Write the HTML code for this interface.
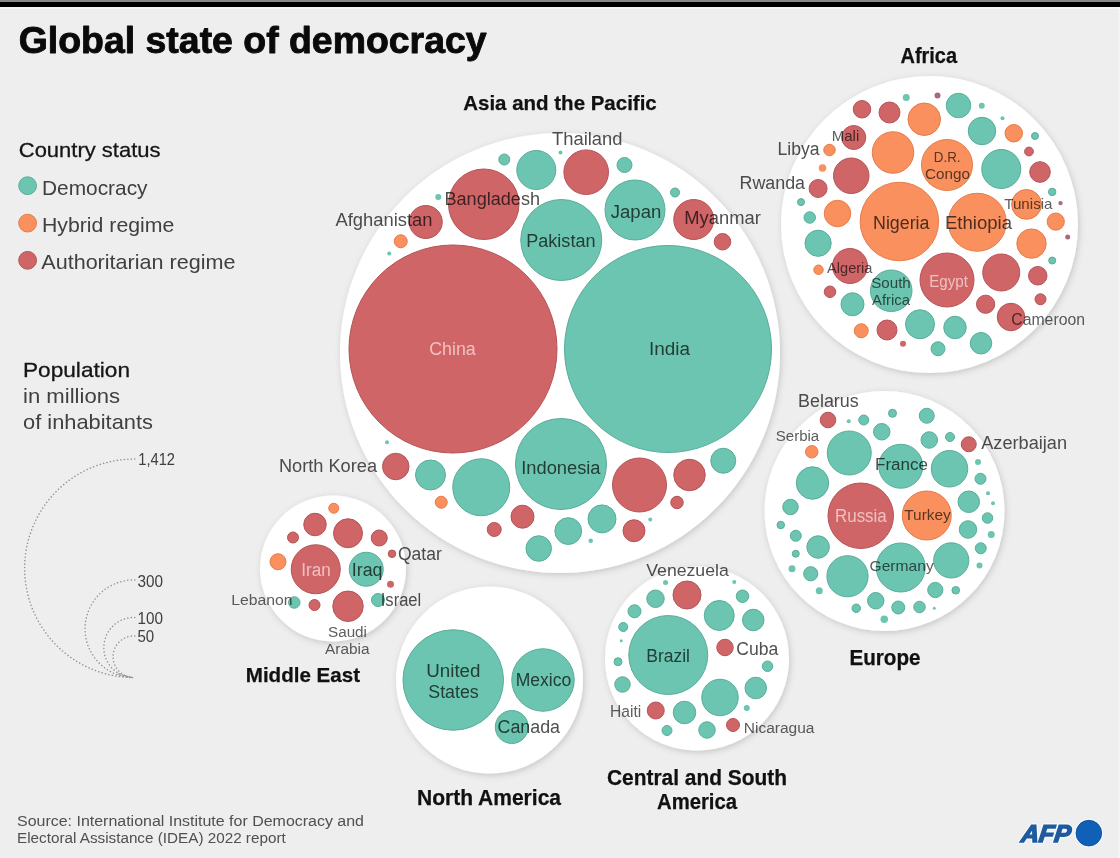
<!DOCTYPE html>
<html lang="en"><head><meta charset="utf-8"><title>Global state of democracy</title>
<style>
html,body{margin:0;padding:0;background:#eeeeee;}
body{width:1120px;height:858px;overflow:hidden;font-family:"Liberation Sans",sans-serif;}
svg{display:block}
text{font-family:"Liberation Sans",sans-serif;}
</style></head><body>
<svg width="1120" height="858" viewBox="0 0 1120 858">
<defs>
<filter id="sh" x="-10%" y="-10%" width="120%" height="120%">
<feDropShadow dx="1.2" dy="1.8" stdDeviation="3" flood-color="#000" flood-opacity="0.17"/>
</filter>
</defs>
<rect x="0" y="0" width="1120" height="858" fill="#eeeeee"/>
<rect x="0" y="0" width="1120" height="2" fill="#8a8a8a"/>
<rect x="0" y="2" width="1120" height="5" fill="#000"/>
<rect x="0" y="7" width="1120" height="2" fill="#f6f6f6"/>
<rect x="1118.4" y="7" width="1.6" height="851" fill="#f5f5f5"/>

<g filter="url(#sh)" fill="#fff">
<circle cx="560" cy="353" r="220"/>
<circle cx="929.5" cy="224.5" r="148.5"/>
<circle cx="884.5" cy="511" r="120"/>
<circle cx="333" cy="568.5" r="73"/>
<circle cx="489.5" cy="680" r="93.5"/>
<circle cx="697" cy="658.5" r="92"/>
</g>
<g stroke-width="1">
<circle cx="504.3" cy="159.5" r="5.5" fill="#6cc5b0" stroke="#58ad99"/>
<circle cx="536.3" cy="170" r="19.5" fill="#6cc5b0" stroke="#58ad99"/>
<circle cx="560.5" cy="152.5" r="2" fill="#6cc5b0" stroke="none"/>
<circle cx="586.2" cy="172.2" r="22.3" fill="#cf6567" stroke="#b55357"/>
<circle cx="483.75" cy="204.25" r="35.25" fill="#cf6567" stroke="#b55357"/>
<circle cx="438.25" cy="197" r="3" fill="#6cc5b0" stroke="none"/>
<circle cx="425.75" cy="222" r="16.5" fill="#cf6567" stroke="#b55357"/>
<circle cx="400.75" cy="241.25" r="6.5" fill="#f9905e" stroke="#e47c4a"/>
<circle cx="389.25" cy="253.5" r="2" fill="#6cc5b0" stroke="none"/>
<circle cx="561.25" cy="240" r="40.5" fill="#6cc5b0" stroke="#58ad99"/>
<circle cx="453" cy="349" r="104.0" fill="#cf6567" stroke="#b55357"/>
<circle cx="668" cy="349" r="103.5" fill="#6cc5b0" stroke="#58ad99"/>
<circle cx="624.5" cy="165" r="7.5" fill="#6cc5b0" stroke="#58ad99"/>
<circle cx="635" cy="210" r="30.0" fill="#6cc5b0" stroke="#58ad99"/>
<circle cx="675" cy="192.5" r="4.5" fill="#6cc5b0" stroke="#58ad99"/>
<circle cx="693.75" cy="219.5" r="20.0" fill="#cf6567" stroke="#b55357"/>
<circle cx="722.5" cy="241.75" r="8.25" fill="#cf6567" stroke="#b55357"/>
<circle cx="387" cy="442.25" r="2" fill="#6cc5b0" stroke="none"/>
<circle cx="395.75" cy="466.5" r="13.25" fill="#cf6567" stroke="#b55357"/>
<circle cx="430.5" cy="475" r="15.0" fill="#6cc5b0" stroke="#58ad99"/>
<circle cx="441.25" cy="502.25" r="6.0" fill="#f9905e" stroke="#e47c4a"/>
<circle cx="481.25" cy="487.25" r="28.5" fill="#6cc5b0" stroke="#58ad99"/>
<circle cx="561" cy="464" r="45.5" fill="#6cc5b0" stroke="#58ad99"/>
<circle cx="522.5" cy="516.7" r="11.5" fill="#cf6567" stroke="#b55357"/>
<circle cx="494.25" cy="529.5" r="7.0" fill="#cf6567" stroke="#b55357"/>
<circle cx="568.25" cy="531.1" r="13.4" fill="#6cc5b0" stroke="#58ad99"/>
<circle cx="538.75" cy="548.5" r="12.75" fill="#6cc5b0" stroke="#58ad99"/>
<circle cx="602" cy="518.9" r="14.0" fill="#6cc5b0" stroke="#58ad99"/>
<circle cx="590.75" cy="540.75" r="2.25" fill="#6cc5b0" stroke="none"/>
<circle cx="639.5" cy="485" r="27.0" fill="#cf6567" stroke="#b55357"/>
<circle cx="689.5" cy="475" r="15.75" fill="#cf6567" stroke="#b55357"/>
<circle cx="723.25" cy="460.75" r="12.5" fill="#6cc5b0" stroke="#58ad99"/>
<circle cx="677" cy="502.5" r="6.25" fill="#cf6567" stroke="#b55357"/>
<circle cx="650.25" cy="519.5" r="2" fill="#6cc5b0" stroke="none"/>
<circle cx="634" cy="530.75" r="11.0" fill="#cf6567" stroke="#b55357"/>
<circle cx="862" cy="109.25" r="8.75" fill="#cf6567" stroke="#b55357"/>
<circle cx="889.5" cy="112.5" r="10.5" fill="#cf6567" stroke="#b55357"/>
<circle cx="924.25" cy="119.25" r="16.25" fill="#f9905e" stroke="#e47c4a"/>
<circle cx="906.25" cy="97.5" r="3.5" fill="#6cc5b0" stroke="none"/>
<circle cx="937.5" cy="95.5" r="3" fill="#a8697c" stroke="none"/>
<circle cx="958.5" cy="105.5" r="12.25" fill="#6cc5b0" stroke="#58ad99"/>
<circle cx="981.75" cy="105.75" r="3" fill="#6cc5b0" stroke="none"/>
<circle cx="1002.5" cy="118.25" r="2" fill="#6cc5b0" stroke="none"/>
<circle cx="982" cy="131" r="13.75" fill="#6cc5b0" stroke="#58ad99"/>
<circle cx="1013.75" cy="133.25" r="8.75" fill="#f9905e" stroke="#e47c4a"/>
<circle cx="1035" cy="136" r="3.5" fill="#6cc5b0" stroke="#58ad99"/>
<circle cx="1029" cy="151.5" r="4.4" fill="#cf6567" stroke="#b55357"/>
<circle cx="1001.25" cy="169" r="19.5" fill="#6cc5b0" stroke="#58ad99"/>
<circle cx="1040" cy="172" r="10.3" fill="#cf6567" stroke="#b55357"/>
<circle cx="853.75" cy="137.5" r="12.0" fill="#cf6567" stroke="#b55357"/>
<circle cx="829.5" cy="150" r="5.75" fill="#f9905e" stroke="#e47c4a"/>
<circle cx="822.5" cy="168" r="3.75" fill="#f9905e" stroke="none"/>
<circle cx="893" cy="152.5" r="20.75" fill="#f9905e" stroke="#e47c4a"/>
<circle cx="947" cy="165" r="25.5" fill="#f9905e" stroke="#e47c4a"/>
<circle cx="851.25" cy="175.75" r="17.75" fill="#cf6567" stroke="#b55357"/>
<circle cx="818.1" cy="188.5" r="9.0" fill="#cf6567" stroke="#b55357"/>
<circle cx="801" cy="202.1" r="3.5" fill="#6cc5b0" stroke="#58ad99"/>
<circle cx="809.75" cy="217.5" r="5.75" fill="#6cc5b0" stroke="#58ad99"/>
<circle cx="837.5" cy="213.5" r="13.25" fill="#f9905e" stroke="#e47c4a"/>
<circle cx="899.4" cy="221.5" r="39.25" fill="#f9905e" stroke="#e47c4a"/>
<circle cx="977.25" cy="222.25" r="29.0" fill="#f9905e" stroke="#e47c4a"/>
<circle cx="1026.5" cy="204.4" r="14.9" fill="#f9905e" stroke="#e47c4a"/>
<circle cx="1052.2" cy="191.9" r="3.7" fill="#6cc5b0" stroke="#58ad99"/>
<circle cx="1060.5" cy="203.1" r="2.2" fill="#a8697c" stroke="none"/>
<circle cx="1055.75" cy="221.6" r="8.6" fill="#f9905e" stroke="#e47c4a"/>
<circle cx="1067.7" cy="237" r="2.5" fill="#a8697c" stroke="none"/>
<circle cx="1031.5" cy="243.6" r="14.7" fill="#f9905e" stroke="#e47c4a"/>
<circle cx="1052.2" cy="260.5" r="3.5" fill="#6cc5b0" stroke="#58ad99"/>
<circle cx="818.1" cy="243.25" r="13.1" fill="#6cc5b0" stroke="#58ad99"/>
<circle cx="850" cy="266" r="17.5" fill="#cf6567" stroke="#b55357"/>
<circle cx="818.5" cy="269.75" r="4.75" fill="#f9905e" stroke="#e47c4a"/>
<circle cx="830" cy="291.75" r="5.75" fill="#cf6567" stroke="#b55357"/>
<circle cx="891.25" cy="290.75" r="20.75" fill="#6cc5b0" stroke="#58ad99"/>
<circle cx="947" cy="280" r="27.0" fill="#cf6567" stroke="#b55357"/>
<circle cx="1001.25" cy="272.5" r="18.5" fill="#cf6567" stroke="#b55357"/>
<circle cx="1037.75" cy="275.75" r="9.25" fill="#cf6567" stroke="#b55357"/>
<circle cx="1040.5" cy="299.25" r="5.5" fill="#cf6567" stroke="#b55357"/>
<circle cx="985.6" cy="304.25" r="9.1" fill="#cf6567" stroke="#b55357"/>
<circle cx="1011" cy="317" r="13.75" fill="#cf6567" stroke="#b55357"/>
<circle cx="852.5" cy="304.25" r="11.5" fill="#6cc5b0" stroke="#58ad99"/>
<circle cx="861.25" cy="330.75" r="7.0" fill="#f9905e" stroke="#e47c4a"/>
<circle cx="887" cy="330" r="10.0" fill="#cf6567" stroke="#b55357"/>
<circle cx="903" cy="343.75" r="3" fill="#cf6567" stroke="none"/>
<circle cx="920" cy="324.25" r="14.5" fill="#6cc5b0" stroke="#58ad99"/>
<circle cx="955" cy="327.5" r="11.25" fill="#6cc5b0" stroke="#58ad99"/>
<circle cx="938" cy="348.75" r="7.0" fill="#6cc5b0" stroke="#58ad99"/>
<circle cx="981" cy="343.25" r="10.75" fill="#6cc5b0" stroke="#58ad99"/>
<circle cx="828" cy="420" r="7.75" fill="#cf6567" stroke="#b55357"/>
<circle cx="848.75" cy="421.25" r="2" fill="#6cc5b0" stroke="none"/>
<circle cx="863.75" cy="420" r="5.0" fill="#6cc5b0" stroke="#58ad99"/>
<circle cx="881.75" cy="431.75" r="8.25" fill="#6cc5b0" stroke="#58ad99"/>
<circle cx="892.5" cy="413.25" r="4.0" fill="#6cc5b0" stroke="#58ad99"/>
<circle cx="926.75" cy="415.75" r="7.5" fill="#6cc5b0" stroke="#58ad99"/>
<circle cx="929.25" cy="440" r="8.25" fill="#6cc5b0" stroke="#58ad99"/>
<circle cx="950" cy="437" r="4.5" fill="#6cc5b0" stroke="#58ad99"/>
<circle cx="968.75" cy="444.25" r="7.5" fill="#cf6567" stroke="#b55357"/>
<circle cx="811.75" cy="451.75" r="6.25" fill="#f9905e" stroke="#e47c4a"/>
<circle cx="849.25" cy="453" r="22.0" fill="#6cc5b0" stroke="#58ad99"/>
<circle cx="900.75" cy="466.25" r="22.0" fill="#6cc5b0" stroke="#58ad99"/>
<circle cx="949.5" cy="468.75" r="18.25" fill="#6cc5b0" stroke="#58ad99"/>
<circle cx="978" cy="462" r="3" fill="#6cc5b0" stroke="none"/>
<circle cx="980.5" cy="478.75" r="5.5" fill="#6cc5b0" stroke="#58ad99"/>
<circle cx="988" cy="493.25" r="2" fill="#6cc5b0" stroke="none"/>
<circle cx="993" cy="503.25" r="2" fill="#6cc5b0" stroke="none"/>
<circle cx="968.75" cy="501.75" r="10.75" fill="#6cc5b0" stroke="#58ad99"/>
<circle cx="987.5" cy="518" r="5.25" fill="#6cc5b0" stroke="#58ad99"/>
<circle cx="968" cy="529.5" r="8.75" fill="#6cc5b0" stroke="#58ad99"/>
<circle cx="991.25" cy="534.5" r="3.5" fill="#6cc5b0" stroke="none"/>
<circle cx="980.75" cy="548.25" r="5.5" fill="#6cc5b0" stroke="#58ad99"/>
<circle cx="979.5" cy="565.5" r="3" fill="#6cc5b0" stroke="none"/>
<circle cx="812.5" cy="483" r="16.25" fill="#6cc5b0" stroke="#58ad99"/>
<circle cx="860.75" cy="515.75" r="32.75" fill="#cf6567" stroke="#b55357"/>
<circle cx="926.75" cy="515.5" r="24.5" fill="#f9905e" stroke="#e47c4a"/>
<circle cx="790.5" cy="507" r="7.75" fill="#6cc5b0" stroke="#58ad99"/>
<circle cx="780.75" cy="525" r="3.75" fill="#6cc5b0" stroke="#58ad99"/>
<circle cx="795.75" cy="535.75" r="5.5" fill="#6cc5b0" stroke="#58ad99"/>
<circle cx="795.75" cy="553.75" r="3.5" fill="#6cc5b0" stroke="#58ad99"/>
<circle cx="818.1" cy="547" r="11.25" fill="#6cc5b0" stroke="#58ad99"/>
<circle cx="792" cy="568.75" r="3.5" fill="#6cc5b0" stroke="none"/>
<circle cx="810.75" cy="573.75" r="7.1" fill="#6cc5b0" stroke="#58ad99"/>
<circle cx="900.75" cy="567.5" r="24.5" fill="#6cc5b0" stroke="#58ad99"/>
<circle cx="951.25" cy="560.4" r="17.6" fill="#6cc5b0" stroke="#58ad99"/>
<circle cx="847.5" cy="576.25" r="20.6" fill="#6cc5b0" stroke="#58ad99"/>
<circle cx="935.3" cy="590" r="7.6" fill="#6cc5b0" stroke="#58ad99"/>
<circle cx="955.75" cy="590.3" r="3.8" fill="#6cc5b0" stroke="#58ad99"/>
<circle cx="934.25" cy="608.25" r="1.5" fill="#6cc5b0" stroke="none"/>
<circle cx="919.5" cy="607" r="5.75" fill="#6cc5b0" stroke="#58ad99"/>
<circle cx="898.25" cy="607.5" r="6.5" fill="#6cc5b0" stroke="#58ad99"/>
<circle cx="875.75" cy="600.75" r="8.25" fill="#6cc5b0" stroke="#58ad99"/>
<circle cx="856.25" cy="608.25" r="4.25" fill="#6cc5b0" stroke="#58ad99"/>
<circle cx="884.25" cy="619.25" r="3.75" fill="#6cc5b0" stroke="none"/>
<circle cx="819.25" cy="590.75" r="3.5" fill="#6cc5b0" stroke="none"/>
<circle cx="333.75" cy="508.25" r="5.0" fill="#f9905e" stroke="#e47c4a"/>
<circle cx="315" cy="524.5" r="11.25" fill="#cf6567" stroke="#b55357"/>
<circle cx="293" cy="537.5" r="5.5" fill="#cf6567" stroke="#b55357"/>
<circle cx="348" cy="533.25" r="14.5" fill="#cf6567" stroke="#b55357"/>
<circle cx="379.25" cy="538" r="8.0" fill="#cf6567" stroke="#b55357"/>
<circle cx="392" cy="553.75" r="3.75" fill="#cf6567" stroke="#b55357"/>
<circle cx="390.5" cy="584.25" r="3.5" fill="#cf6567" stroke="none"/>
<circle cx="278" cy="561.75" r="8.0" fill="#f9905e" stroke="#e47c4a"/>
<circle cx="315.75" cy="569.25" r="24.5" fill="#cf6567" stroke="#b55357"/>
<circle cx="366.25" cy="569.25" r="17.0" fill="#6cc5b0" stroke="#58ad99"/>
<circle cx="294.25" cy="602.5" r="5.75" fill="#6cc5b0" stroke="#58ad99"/>
<circle cx="314.5" cy="605" r="5.5" fill="#cf6567" stroke="#b55357"/>
<circle cx="348" cy="606.25" r="15.25" fill="#cf6567" stroke="#b55357"/>
<circle cx="378" cy="600" r="6.5" fill="#6cc5b0" stroke="#58ad99"/>
<circle cx="453.25" cy="680" r="50.25" fill="#6cc5b0" stroke="#58ad99"/>
<circle cx="543" cy="680" r="31.25" fill="#6cc5b0" stroke="#58ad99"/>
<circle cx="511.75" cy="727" r="16.5" fill="#6cc5b0" stroke="#58ad99"/>
<circle cx="687" cy="595" r="14.0" fill="#cf6567" stroke="#b55357"/>
<circle cx="665.5" cy="582.5" r="2.5" fill="#6cc5b0" stroke="none"/>
<circle cx="734.25" cy="582" r="2" fill="#6cc5b0" stroke="none"/>
<circle cx="655.5" cy="598.75" r="8.75" fill="#6cc5b0" stroke="#58ad99"/>
<circle cx="634.5" cy="611.25" r="6.5" fill="#6cc5b0" stroke="#58ad99"/>
<circle cx="623.25" cy="627" r="4.5" fill="#6cc5b0" stroke="#58ad99"/>
<circle cx="621.25" cy="640.75" r="1.5" fill="#6cc5b0" stroke="none"/>
<circle cx="618" cy="661.75" r="4.0" fill="#6cc5b0" stroke="#58ad99"/>
<circle cx="622.5" cy="684.5" r="7.75" fill="#6cc5b0" stroke="#58ad99"/>
<circle cx="668.25" cy="655" r="39.5" fill="#6cc5b0" stroke="#58ad99"/>
<circle cx="742.5" cy="596.25" r="6.25" fill="#6cc5b0" stroke="#58ad99"/>
<circle cx="719.25" cy="615.5" r="15.0" fill="#6cc5b0" stroke="#58ad99"/>
<circle cx="753.25" cy="620" r="10.75" fill="#6cc5b0" stroke="#58ad99"/>
<circle cx="725" cy="647.5" r="8.25" fill="#cf6567" stroke="#b55357"/>
<circle cx="767.5" cy="666.25" r="5.25" fill="#6cc5b0" stroke="#58ad99"/>
<circle cx="755.75" cy="688" r="10.75" fill="#6cc5b0" stroke="#58ad99"/>
<circle cx="720" cy="697.5" r="18.25" fill="#6cc5b0" stroke="#58ad99"/>
<circle cx="746.75" cy="708" r="3" fill="#6cc5b0" stroke="none"/>
<circle cx="733" cy="725" r="6.5" fill="#cf6567" stroke="#b55357"/>
<circle cx="707" cy="730" r="8.25" fill="#6cc5b0" stroke="#58ad99"/>
<circle cx="684.5" cy="712.5" r="11.25" fill="#6cc5b0" stroke="#58ad99"/>
<circle cx="655.75" cy="710.5" r="8.5" fill="#cf6567" stroke="#b55357"/>
<circle cx="667" cy="730.5" r="5.0" fill="#6cc5b0" stroke="#58ad99"/>
<circle cx="27.6" cy="185.7" r="8.9" fill="#6cc5b0" stroke="#58ad99"/>
<circle cx="27.6" cy="223.1" r="8.9" fill="#f9905e" stroke="#e47c4a"/>
<circle cx="27.6" cy="260.3" r="8.9" fill="#cf6567" stroke="#b55357"/>
</g>
<g fill="none" stroke="#929292" stroke-width="1.5" stroke-linecap="round" stroke-dasharray="0.1 3.4">
<path d="M134.8 459.1 A109.2 109.2 0 0 0 132.8 677.5"/>
<path d="M134.8 580.0 A48.75 48.75 0 0 0 132.8 677.5"/>
<path d="M134.8 617.5 A30 30 0 0 0 132.8 677.5"/>
<path d="M134.8 636.0 A20.75 20.75 0 0 0 132.8 677.5"/>
<path d="M118.80000000000001 674.0 L133.8 678.0"/>
</g>
<text x="552" y="144.9" font-size="17.78" textLength="70.5" lengthAdjust="spacingAndGlyphs" fill="#505050" style="mix-blend-mode:multiply">Thailand</text>
<text x="444.5" y="205.4" font-size="18.49" textLength="95.5" lengthAdjust="spacingAndGlyphs" fill="#505050" style="mix-blend-mode:multiply">Bangladesh</text>
<text x="335.5" y="226.15" font-size="18.49" textLength="97.0" lengthAdjust="spacingAndGlyphs" fill="#505050" style="mix-blend-mode:multiply">Afghanistan</text>
<text x="526.25" y="247.4" font-size="18.49" textLength="69.25" lengthAdjust="spacingAndGlyphs" fill="#505050" style="mix-blend-mode:multiply">Pakistan</text>
<text x="610.75" y="217.9" font-size="18.49" textLength="50.5" lengthAdjust="spacingAndGlyphs" fill="#505050" style="mix-blend-mode:multiply">Japan</text>
<text x="684.25" y="224.15" font-size="17.78" textLength="76.5" lengthAdjust="spacingAndGlyphs" fill="#505050" style="mix-blend-mode:multiply">Myanmar</text>
<text x="429.25" y="355.4" font-size="17.78" textLength="46.5" lengthAdjust="spacingAndGlyphs" fill="rgba(255,236,236,0.68)">China</text>
<text x="649" y="355.4" font-size="17.78" textLength="41" lengthAdjust="spacingAndGlyphs" fill="#505050" style="mix-blend-mode:multiply">India</text>
<text x="279" y="472.4" font-size="17.78" textLength="98" lengthAdjust="spacingAndGlyphs" fill="#505050" style="mix-blend-mode:multiply">North Korea</text>
<text x="521.25" y="473.9" font-size="17.78" textLength="79.25" lengthAdjust="spacingAndGlyphs" fill="#505050" style="mix-blend-mode:multiply">Indonesia</text>
<text x="831.75" y="140.9" font-size="14.94" textLength="27.5" lengthAdjust="spacingAndGlyphs" fill="#5e5e5e" style="mix-blend-mode:multiply" style="mix-blend-mode:multiply">Mali</text>
<text x="777.5" y="154.9" font-size="17.78" textLength="42.0" lengthAdjust="spacingAndGlyphs" fill="#505050" style="mix-blend-mode:multiply">Libya</text>
<text x="739.5" y="188.65" font-size="17.78" textLength="65.5" lengthAdjust="spacingAndGlyphs" fill="#505050" style="mix-blend-mode:multiply">Rwanda</text>
<text x="933.75" y="161.65" font-size="15.29" textLength="26.75" lengthAdjust="spacingAndGlyphs" fill="#5e5e5e" style="mix-blend-mode:multiply" style="mix-blend-mode:multiply">D.R.</text>
<text x="925" y="179.15" font-size="15.29" textLength="45" lengthAdjust="spacingAndGlyphs" fill="#5e5e5e" style="mix-blend-mode:multiply" style="mix-blend-mode:multiply">Congo</text>
<text x="873" y="229.15" font-size="17.78" textLength="56.5" lengthAdjust="spacingAndGlyphs" fill="#505050" style="mix-blend-mode:multiply">Nigeria</text>
<text x="945" y="229.15" font-size="17.78" textLength="67" lengthAdjust="spacingAndGlyphs" fill="#505050" style="mix-blend-mode:multiply">Ethiopia</text>
<text x="1004.25" y="208.65" font-size="14.94" textLength="48.25" lengthAdjust="spacingAndGlyphs" fill="#5e5e5e" style="mix-blend-mode:multiply" style="mix-blend-mode:multiply">Tunisia</text>
<text x="827" y="273.4" font-size="14.94" textLength="45.5" lengthAdjust="spacingAndGlyphs" fill="#5e5e5e" style="mix-blend-mode:multiply" style="mix-blend-mode:multiply">Algeria</text>
<text x="871.25" y="288.4" font-size="14.94" textLength="39.5" lengthAdjust="spacingAndGlyphs" fill="#5e5e5e" style="mix-blend-mode:multiply" style="mix-blend-mode:multiply">South</text>
<text x="872" y="305.4" font-size="14.94" textLength="38" lengthAdjust="spacingAndGlyphs" fill="#5e5e5e" style="mix-blend-mode:multiply" style="mix-blend-mode:multiply">Africa</text>
<text x="929.25" y="287.4" font-size="17.07" textLength="38.75" lengthAdjust="spacingAndGlyphs" fill="rgba(255,236,236,0.68)">Egypt</text>
<text x="1011.25" y="324.9" font-size="15.65" textLength="73.75" lengthAdjust="spacingAndGlyphs" fill="#5e5e5e" style="mix-blend-mode:multiply" style="mix-blend-mode:multiply">Cameroon</text>
<text x="798" y="407.4" font-size="17.78" textLength="60.75" lengthAdjust="spacingAndGlyphs" fill="#505050" style="mix-blend-mode:multiply">Belarus</text>
<text x="775.75" y="441.15" font-size="15.29" textLength="43.5" lengthAdjust="spacingAndGlyphs" fill="#5e5e5e" style="mix-blend-mode:multiply" style="mix-blend-mode:multiply">Serbia</text>
<text x="981.25" y="449.15" font-size="17.78" textLength="85.75" lengthAdjust="spacingAndGlyphs" fill="#505050" style="mix-blend-mode:multiply">Azerbaijan</text>
<text x="875" y="470.4" font-size="17.07" textLength="53" lengthAdjust="spacingAndGlyphs" fill="#505050" style="mix-blend-mode:multiply">France</text>
<text x="835" y="522.4" font-size="17.78" textLength="51.75" lengthAdjust="spacingAndGlyphs" fill="rgba(255,236,236,0.68)">Russia</text>
<text x="904.25" y="520.4" font-size="15.29" textLength="46.5" lengthAdjust="spacingAndGlyphs" fill="#5e5e5e" style="mix-blend-mode:multiply" style="mix-blend-mode:multiply">Turkey</text>
<text x="869.5" y="571.15" font-size="14.94" textLength="64.25" lengthAdjust="spacingAndGlyphs" fill="#5e5e5e" style="mix-blend-mode:multiply" style="mix-blend-mode:multiply">Germany</text>
<text x="398" y="560.4" font-size="17.78" textLength="43.75" lengthAdjust="spacingAndGlyphs" fill="#505050" style="mix-blend-mode:multiply">Qatar</text>
<text x="301.25" y="576.15" font-size="17.78" textLength="29.5" lengthAdjust="spacingAndGlyphs" fill="rgba(255,236,236,0.68)">Iran</text>
<text x="351.75" y="576.15" font-size="17.78" textLength="30.75" lengthAdjust="spacingAndGlyphs" fill="#505050" style="mix-blend-mode:multiply">Iraq</text>
<text x="231.25" y="605.4" font-size="14.58" textLength="61.25" lengthAdjust="spacingAndGlyphs" fill="#5e5e5e" style="mix-blend-mode:multiply" style="mix-blend-mode:multiply">Lebanon</text>
<text x="380.75" y="606.15" font-size="17.78" textLength="40.5" lengthAdjust="spacingAndGlyphs" fill="#505050" style="mix-blend-mode:multiply">Israel</text>
<text x="328" y="636.65" font-size="15.29" textLength="39" lengthAdjust="spacingAndGlyphs" fill="#5e5e5e" style="mix-blend-mode:multiply" style="mix-blend-mode:multiply">Saudi</text>
<text x="325" y="654.15" font-size="15.29" textLength="44.5" lengthAdjust="spacingAndGlyphs" fill="#5e5e5e" style="mix-blend-mode:multiply" style="mix-blend-mode:multiply">Arabia</text>
<text x="426.25" y="677.4" font-size="18.49" textLength="54.25" lengthAdjust="spacingAndGlyphs" fill="#505050" style="mix-blend-mode:multiply">United</text>
<text x="428.25" y="698.4" font-size="18.49" textLength="50.5" lengthAdjust="spacingAndGlyphs" fill="#505050" style="mix-blend-mode:multiply">States</text>
<text x="515.75" y="685.9" font-size="17.78" textLength="55.5" lengthAdjust="spacingAndGlyphs" fill="#505050" style="mix-blend-mode:multiply">Mexico</text>
<text x="497.5" y="732.9" font-size="17.78" textLength="62.5" lengthAdjust="spacingAndGlyphs" fill="#505050" style="mix-blend-mode:multiply">Canada</text>
<text x="646.25" y="575.9" font-size="17.07" textLength="82.5" lengthAdjust="spacingAndGlyphs" fill="#505050" style="mix-blend-mode:multiply">Venezuela</text>
<text x="646.25" y="661.65" font-size="18.49" textLength="43.75" lengthAdjust="spacingAndGlyphs" fill="#505050" style="mix-blend-mode:multiply">Brazil</text>
<text x="736.25" y="654.9" font-size="18.49" textLength="42.0" lengthAdjust="spacingAndGlyphs" fill="#505050" style="mix-blend-mode:multiply">Cuba</text>
<text x="610" y="717.4" font-size="15.65" textLength="31.25" lengthAdjust="spacingAndGlyphs" fill="#5e5e5e" style="mix-blend-mode:multiply" style="mix-blend-mode:multiply">Haiti</text>
<text x="743.75" y="733.4" font-size="15.29" textLength="70.75" lengthAdjust="spacingAndGlyphs" fill="#5e5e5e" style="mix-blend-mode:multiply" style="mix-blend-mode:multiply">Nicaragua</text>
<text x="463.25" y="109.75" font-size="20.51" textLength="193.5" lengthAdjust="spacingAndGlyphs" fill="#111" font-weight="700" stroke="#111" stroke-width="0.25">Asia and the Pacific</text>
<text x="900.5" y="63.0" font-size="21.25" textLength="56.5" lengthAdjust="spacingAndGlyphs" fill="#111" font-weight="700" stroke="#111" stroke-width="0.25">Africa</text>
<text x="849.5" y="664.75" font-size="21.25" textLength="71.0" lengthAdjust="spacingAndGlyphs" fill="#111" font-weight="700" stroke="#111" stroke-width="0.25">Europe</text>
<text x="245.75" y="682.0" font-size="20.88" textLength="114.25" lengthAdjust="spacingAndGlyphs" fill="#111" font-weight="700" stroke="#111" stroke-width="0.25">Middle East</text>
<text x="417" y="805.0" font-size="21.25" textLength="144" lengthAdjust="spacingAndGlyphs" fill="#111" font-weight="700" stroke="#111" stroke-width="0.25">North America</text>
<text x="607" y="785.0" font-size="21.25" textLength="180" lengthAdjust="spacingAndGlyphs" fill="#111" font-weight="700" stroke="#111" stroke-width="0.25">Central and South</text>
<text x="657" y="809.0" font-size="21.25" textLength="80" lengthAdjust="spacingAndGlyphs" fill="#111" font-weight="700" stroke="#111" stroke-width="0.25">America</text>
<text x="18.75" y="53.4" font-size="37.41" textLength="467.85" lengthAdjust="spacingAndGlyphs" fill="#0a0a0a" font-weight="700" stroke="#0a0a0a" stroke-width="0.9" stroke-linejoin="round">Global state of democracy</text>
<text x="18.75" y="156.5" font-size="20.63" textLength="141.75" lengthAdjust="spacingAndGlyphs" fill="#151515" stroke="#151515" stroke-width="0.28">Country status</text>
<text x="42" y="194.75" font-size="20.63" textLength="105.5" lengthAdjust="spacingAndGlyphs" fill="#444" style="mix-blend-mode:multiply">Democracy</text>
<text x="42" y="231.75" font-size="20.63" textLength="132.25" lengthAdjust="spacingAndGlyphs" fill="#444" style="mix-blend-mode:multiply">Hybrid regime</text>
<text x="41.25" y="269.0" font-size="20.63" textLength="194.25" lengthAdjust="spacingAndGlyphs" fill="#444" style="mix-blend-mode:multiply">Authoritarian regime</text>
<text x="23" y="376.75" font-size="20.63" textLength="107" lengthAdjust="spacingAndGlyphs" fill="#151515" stroke="#151515" stroke-width="0.28">Population</text>
<text x="23" y="403.0" font-size="20.63" textLength="97" lengthAdjust="spacingAndGlyphs" fill="#444" style="mix-blend-mode:multiply">in millions</text>
<text x="23" y="429.25" font-size="20.63" textLength="130" lengthAdjust="spacingAndGlyphs" fill="#444" style="mix-blend-mode:multiply">of inhabitants</text>
<text x="138.25" y="464.75" font-size="15.65" textLength="36.75" lengthAdjust="spacingAndGlyphs" fill="#444" style="mix-blend-mode:multiply">1,412</text>
<text x="137.5" y="586.5" font-size="15.65" textLength="25.5" lengthAdjust="spacingAndGlyphs" fill="#444" style="mix-blend-mode:multiply">300</text>
<text x="137.5" y="623.5" font-size="15.65" textLength="25.5" lengthAdjust="spacingAndGlyphs" fill="#444" style="mix-blend-mode:multiply">100</text>
<text x="137.5" y="641.75" font-size="15.65" textLength="16.75" lengthAdjust="spacingAndGlyphs" fill="#444" style="mix-blend-mode:multiply">50</text>
<text x="17" y="825.8" font-size="15.36" textLength="347" lengthAdjust="spacingAndGlyphs" fill="#555" style="mix-blend-mode:multiply">Source: International Institute for Democracy and</text>
<text x="17" y="842.9" font-size="15.36" textLength="268.7" lengthAdjust="spacingAndGlyphs" fill="#555" style="mix-blend-mode:multiply">Electoral Assistance (IDEA) 2022 report</text>
<g>
<g transform="translate(1020.4,841.6) skewX(-7)" font-size="24.2" font-weight="700" font-style="italic">
<text x="0" y="0" textLength="49.5" lengthAdjust="spacingAndGlyphs" fill="#f6f9fc" stroke="#f6f9fc" stroke-width="4" stroke-linejoin="round">AFP</text>
<text x="0" y="0" textLength="49.5" lengthAdjust="spacingAndGlyphs" fill="#1f5a9e" stroke="#1f5a9e" stroke-width="1.5" stroke-linejoin="miter">AFP</text>
</g>
<circle cx="1088.85" cy="833.15" r="14.4" fill="#f1f8fe"/>
<circle cx="1088.85" cy="833.15" r="12.8" fill="#0f60b6" stroke="#0d4f99" stroke-width="0.9"/>
</g>
</svg></body></html>
